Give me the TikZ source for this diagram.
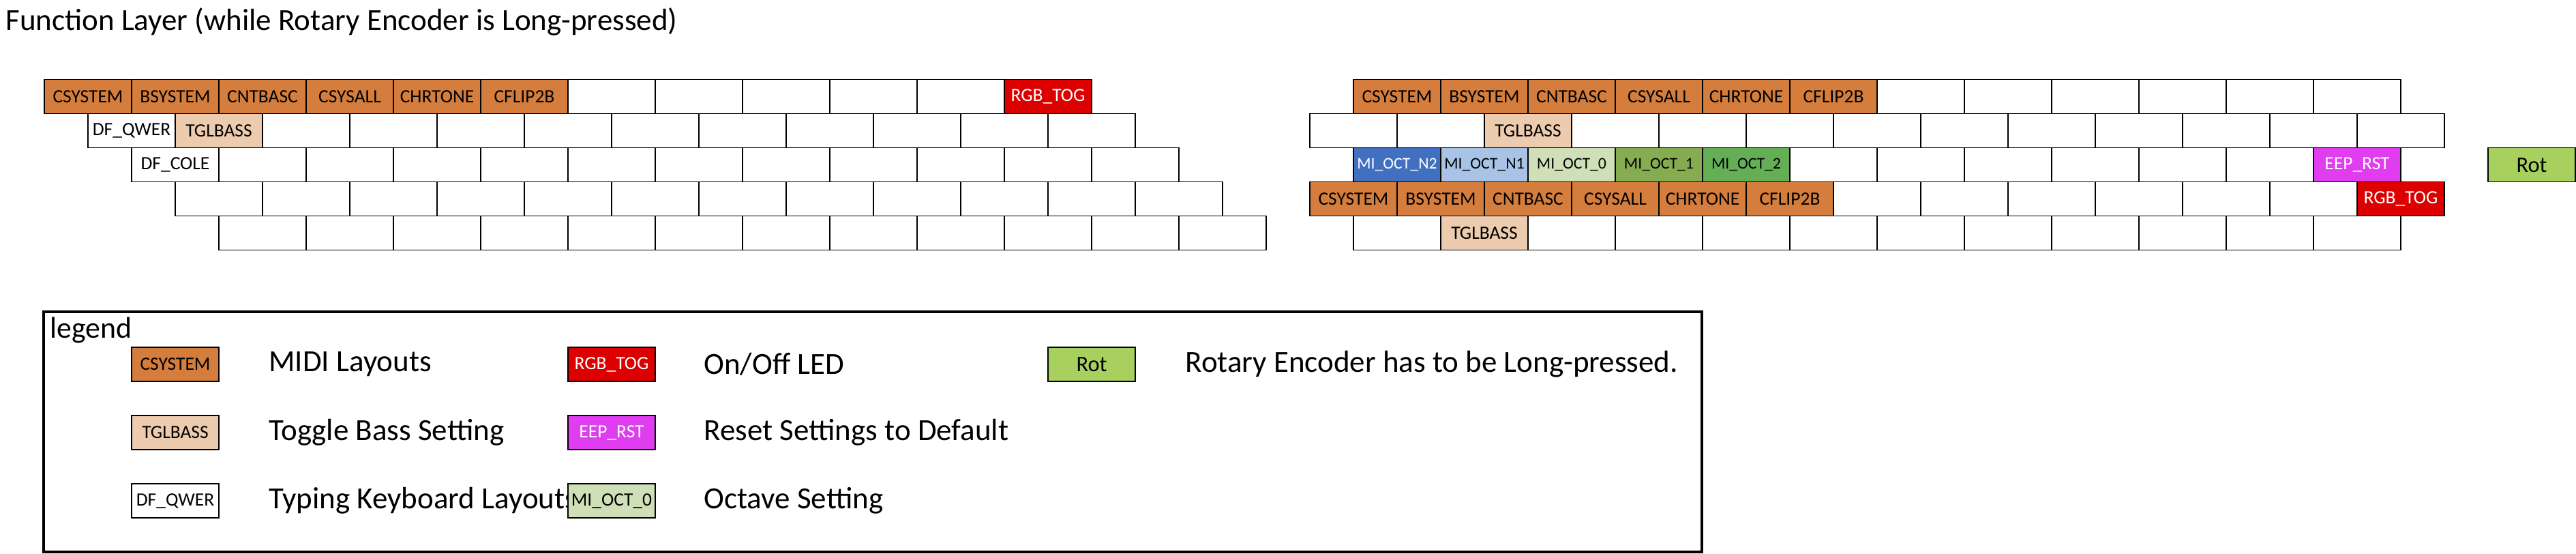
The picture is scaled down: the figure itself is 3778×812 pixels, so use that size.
\documentclass[tikz,border=0pt]{standalone}
\usepackage{fontspec}
\setmainfont{Carlito}
\usepackage{tikz}
\usetikzlibrary{positioning}
\definecolor{midiorange}{RGB}{213,125,60}
\definecolor{basspeach}{RGB}{236,203,174}
\definecolor{ledred}{RGB}{220,0,0}
\definecolor{rstpink}{RGB}{223,61,239}
\definecolor{octblue}{RGB}{66,112,192}
\definecolor{octlblue}{RGB}{169,195,230}
\definecolor{octlgreen}{RGB}{207,224,184}
\definecolor{octolive}{RGB}{134,172,82}
\definecolor{octgreen}{RGB}{100,175,86}
\definecolor{rotgreen}{RGB}{167,208,94}
\tikzset{
  keycap/.style={draw, line width=0.6pt, fill=white, minimum width=51.2pt, minimum height=20pt, inner sep=0pt, outer sep=0pt, font=\fontsize{11}{13}\selectfont},
  blank/.style={keycap},
  midi/.style={keycap, fill=midiorange},
  bass/.style={keycap, fill=basspeach},
  ledkey/.style={keycap, fill=ledred, text=white},
  rstkey/.style={keycap, fill=rstpink, text=white},
  octkey/.style={keycap, font=\fontsize{9.5}{11}\selectfont},
  octnn/.style={octkey, fill=octblue, text=white},
  octn/.style={octkey, fill=octlblue},
  octz/.style={octkey, fill=octlgreen},
  octp/.style={octkey, fill=octolive},
  octpp/.style={octkey, fill=octgreen},
  rotkey/.style={keycap, fill=rotgreen, font=\fontsize{13}{15}\selectfont},
  legtext/.style={anchor=west, inner sep=0pt, font=\fontsize{18}{22}\selectfont}
}

\begin{document}
\begin{tikzpicture}[x=0.4pt, y=-0.4pt]
  \useasboundingbox (0,0) rectangle (3778,812);
  \node[anchor=base west, inner sep=0pt, font=\fontsize{18}{22}\selectfont] (title) at (8,45) {Function Layer (while Rotary Encoder is Long-pressed)};

  % left hand
  \foreach \sty/\lbl [count=\i from 0] in {midi/CSYSTEM, midi/BSYSTEM, midi/CNTBASC, midi/CSYSALL, midi/CHRTONE, midi/CFLIP2B, blank/{}, blank/{}, blank/{}, blank/{}, blank/{}, ledkey/RGB\_TOG}
    \node[\sty] (L0-\i) at ({65+64+128*\i},141.7) {\lbl};
  \foreach \sty/\lbl [count=\i from 0] in {blank/DF\_QWER, bass/TGLBASS, blank/{}, blank/{}, blank/{}, blank/{}, blank/{}, blank/{}, blank/{}, blank/{}, blank/{}, blank/{}}
    \node[\sty] (L1-\i) at ({129+64+128*\i},191.7) {\lbl};
  \foreach \sty/\lbl [count=\i from 0] in {blank/DF\_COLE, blank/{}, blank/{}, blank/{}, blank/{}, blank/{}, blank/{}, blank/{}, blank/{}, blank/{}, blank/{}, blank/{}}
    \node[\sty] (L2-\i) at ({193+64+128*\i},241.7) {\lbl};
  \foreach \i in {0,...,11}
    \node[blank] (L3-\i) at ({257+64+128*\i},291.7) {};
  \foreach \i in {0,...,11}
    \node[blank] (L4-\i) at ({321+64+128*\i},341.7) {};

  % right hand
  \foreach \sty/\lbl [count=\i from 0] in {midi/CSYSTEM, midi/BSYSTEM, midi/CNTBASC, midi/CSYSALL, midi/CHRTONE, midi/CFLIP2B, blank/{}, blank/{}, blank/{}, blank/{}, blank/{}, blank/{}}
    \node[\sty] (R0-\i) at ({1985+64+128*\i},141.7) {\lbl};
  \foreach \sty/\lbl [count=\i from 0] in {blank/{}, blank/{}, bass/TGLBASS, blank/{}, blank/{}, blank/{}, blank/{}, blank/{}, blank/{}, blank/{}, blank/{}, blank/{}, blank/{}}
    \node[\sty] (R1-\i) at ({1921+64+128*\i},191.7) {\lbl};
  \foreach \sty/\lbl [count=\i from 0] in {octnn/MI\_OCT\_N2, octn/MI\_OCT\_N1, octz/MI\_OCT\_0, octp/MI\_OCT\_1, octpp/MI\_OCT\_2, blank/{}, blank/{}, blank/{}, blank/{}, blank/{}, blank/{}, rstkey/EEP\_RST}
    \node[\sty] (R2-\i) at ({1985+64+128*\i},241.7) {\lbl};
  \foreach \sty/\lbl [count=\i from 0] in {midi/CSYSTEM, midi/BSYSTEM, midi/CNTBASC, midi/CSYSALL, midi/CHRTONE, midi/CFLIP2B, blank/{}, blank/{}, blank/{}, blank/{}, blank/{}, blank/{}, ledkey/RGB\_TOG}
    \node[\sty] (R3-\i) at ({1921+64+128*\i},291.7) {\lbl};
  \foreach \sty/\lbl [count=\i from 0] in {blank/{}, bass/TGLBASS, blank/{}, blank/{}, blank/{}, blank/{}, blank/{}, blank/{}, blank/{}, blank/{}, blank/{}, blank/{}}
    \node[\sty] (R4-\i) at ({1985+64+128*\i},341.7) {\lbl};
  \node[rotkey] (rot) at (3713,241.7) {Rot};

  % legend
  \draw[line width=1.4pt] (64,457) rectangle (2496,809);
  \node[anchor=base west, inner sep=0pt, font=\fontsize{17.5}{21}\selectfont] (legendtitle) at (73,495) {legend};
  \node[midi] (lg-midi) at (257,534) {CSYSTEM};
  \node[legtext] (lt-midi) at (394,534) {MIDI Layouts};
  \node[bass] (lg-bass) at (257,634) {TGLBASS};
  \node[legtext] (lt-bass) at (394,634) {Toggle Bass Setting};
  \node[blank] (lg-qwer) at (257,734) {DF\_QWER};
  \node[legtext] (lt-qwer) at (394,734) {Typing Keyboard Layouts};
  \node[ledkey] (lg-led) at (897,534) {RGB\_TOG};
  \node[legtext] (lt-led) at (1032,534) {On/Off LED};
  \node[rstkey] (lg-rst) at (897,634) {EEP\_RST};
  \node[legtext] (lt-rst) at (1032,634) {Reset Settings to Default};
  \node[octz, font=\fontsize{11}{13}\selectfont] (lg-oct) at (897,734) {MI\_OCT\_0};
  \node[legtext] (lt-oct) at (1032,734) {Octave Setting};
  \node[rotkey] (lg-rot) at (1601,534) {Rot};
  \node[legtext] (lt-rot) at (1738,534) {Rotary Encoder has to be Long-pressed.};
\end{tikzpicture}
\end{document}
